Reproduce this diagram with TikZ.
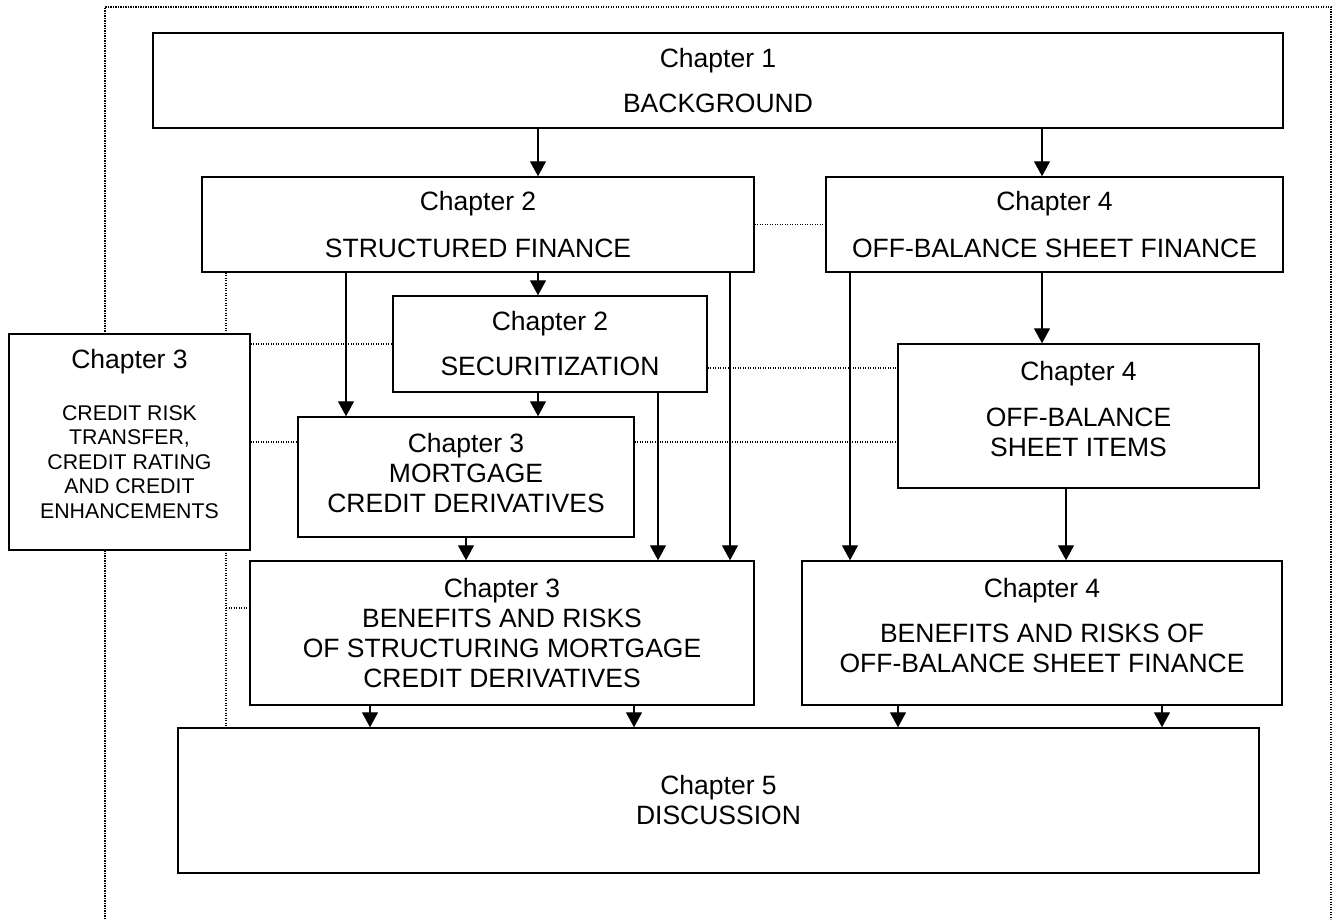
\documentclass[tikz,border=0pt]{standalone}
\usepackage{fontspec}
\setmainfont{Liberation Sans}
\usetikzlibrary{arrows.meta,backgrounds}
\newcommand\bigtxt{\fontsize{26.5}{30}\selectfont}
\newcommand\smalltxt{\fontsize{21.3}{24.5}\selectfont}
\begin{document}
\begin{tikzpicture}[x=1pt,y=-1pt,
  box/.style={draw,line width=1.5pt,fill=white,inner sep=0pt,align=center,font=\bigtxt},
  arr/.style={line width=1.4pt,-{Triangle[width=16pt,length=15pt]}},
  dots/.style={line width=1.3pt,dash pattern=on 1.2pt off 1.3pt}]
\useasboundingbox (0,0) rectangle (1332,919);

% chapter boxes
\node[box,minimum width=1130pt,minimum height=95pt] (ch1) at (718,80.5)
  {Chapter 1\\[15pt]BACKGROUND};
\node[box,minimum width=552pt,minimum height=95pt] (ch2) at (478,224.5)
  {Chapter 2\\[17pt]STRUCTURED FINANCE};
\node[box,minimum width=457pt,minimum height=95pt] (ch4) at (1054.5,224.5)
  {Chapter 4\\[17pt]OFF-BALANCE SHEET FINANCE};
\node[box,minimum width=314pt,minimum height=96pt] (sec) at (550,344)
  {Chapter 2\\[15pt]SECURITIZATION};
\node[box,minimum width=336pt,minimum height=120pt] (mort) at (466,477)
  {Chapter 3\\MORTGAGE\\CREDIT DERIVATIVES\rule[-8pt]{0pt}{0pt}};
\node[box,minimum width=241pt,minimum height=216pt,font=\smalltxt] (c3l) at (129.5,442)
  {{\bigtxt Chapter 3}\\[27pt]CREDIT RISK\\TRANSFER,\\CREDIT RATING\\AND CREDIT\\ENHANCEMENTS\rule[-16pt]{0pt}{0pt}};
\node[box,minimum width=361pt,minimum height=144pt] (obs) at (1078.5,416)
  {Chapter 4\\[16pt]OFF-BALANCE\\SHEET ITEMS\rule[-14pt]{0pt}{0pt}};
\node[box,minimum width=504pt,minimum height=144pt] (b3) at (502,633)
  {Chapter 3\\BENEFITS AND RISKS\\OF STRUCTURING MORTGAGE\\CREDIT DERIVATIVES};
\node[box,minimum width=480pt,minimum height=144pt] (b4) at (1042,633)
  {Chapter 4\\[15pt]BENEFITS AND RISKS OF\\OFF-BALANCE SHEET FINANCE\rule[-16pt]{0pt}{0pt}};
\node[box,minimum width=1081pt,minimum height=145pt] (ch5) at (718.5,800.5)
  {Chapter 5\\DISCUSSION};

% arrow columns
\coordinate (cA) at (538,0);
\coordinate (cB) at (1042,0);
\coordinate (cC) at (346,0);
\coordinate (cD) at (658,0);
\coordinate (cE) at (730,0);
\coordinate (cF) at (466,0);
\coordinate (cG) at (850,0);
\coordinate (cH) at (1066,0);
\coordinate (d1) at (370,0);
\coordinate (d2) at (634,0);
\coordinate (d3) at (898,0);
\coordinate (d4) at (1162,0);
\coordinate (spine) at (226,608);

% flow arrows
\draw[arr] (ch1.south -| cA) -- (ch2.north -| cA);
\draw[arr] (ch1.south -| cB) -- (ch4.north -| cB);
\draw[arr] (ch2.south -| cA) -- (sec.north -| cA);
\draw[arr] (ch2.south -| cC) -- (mort.north -| cC);
\draw[arr] (ch2.south -| cE) -- (b3.north -| cE);
\draw[arr] (sec.south -| cA) -- (mort.north -| cA);
\draw[arr] (sec.south -| cD) -- (b3.north -| cD);
\draw[arr] (mort.south -| cF) -- (b3.north -| cF);
\draw[arr] (ch4.south -| cB) -- (obs.north -| cB);
\draw[arr] (ch4.south -| cG) -- (b4.north -| cG);
\draw[arr] (obs.south -| cH) -- (b4.north -| cH);
\draw[arr] (b3.south -| d1) -- (ch5.north -| d1);
\draw[arr] (b3.south -| d2) -- (ch5.north -| d2);
\draw[arr] (b4.south -| d3) -- (ch5.north -| d3);
\draw[arr] (b4.south -| d4) -- (ch5.north -| d4);

% dotted cross references
\begin{scope}[on background layer]
  \draw[dots] (105,919) -- (105,7) -- (1331,7) -- (1331,919);
  \draw[dots] (ch2.east) -- (ch4.west);
  \draw[dots] (ch2.south -| spine) -- (ch5.north -| spine);
  \draw[dots] (spine) -- (spine -| b3.west);
  \draw[dots] (c3l.east |- sec.west) -- (sec.west);
  \draw[dots] (c3l.east) -- (c3l.east -| mort.west);
  \draw[dots] (mort.east |- c3l.east) -- (obs.west |- c3l.east);
  \draw[dots] ([yshift=-24pt]sec.east) -- ([yshift=-24pt]sec.east -| obs.west);
\end{scope}
\end{tikzpicture}
\end{document}
